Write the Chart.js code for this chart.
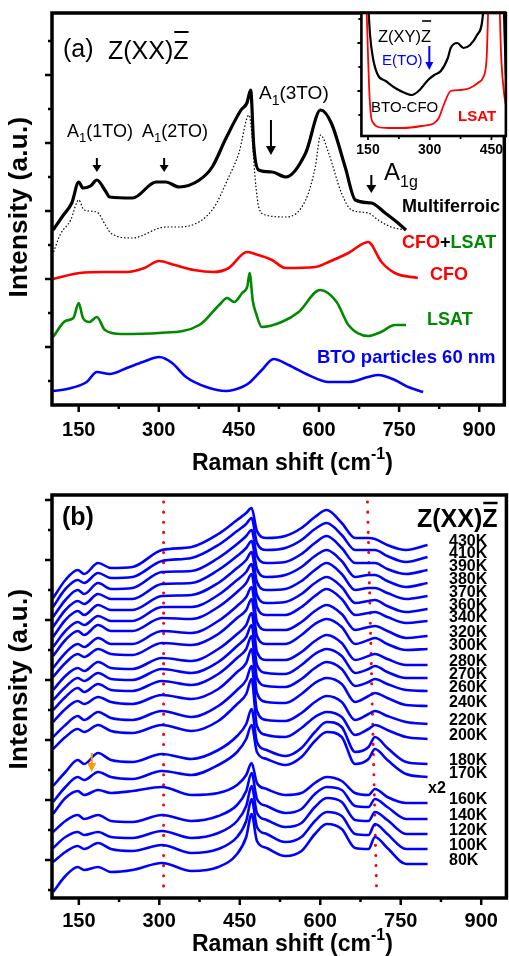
<!DOCTYPE html>
<html>
<head>
<meta charset="utf-8">
<script src="https://cdn.jsdelivr.net/npm/chart.js@4.4.0/dist/chart.umd.min.js"></script>
<style>
  html, body { margin: 0; padding: 0; background: #fff; }
  #wrap { position: relative; width: 509px; height: 956px; overflow: hidden; }
  canvas { position: absolute; }
</style>
</head>
<body>
<div id="wrap">
  <canvas id="chartA" width="509" height="480" style="left:0;top:0"></canvas>
  <canvas id="inset" width="159" height="152" style="left:350px;top:8px"></canvas>
  <canvas id="chartB" width="509" height="478" style="left:0;top:478px"></canvas>
</div>
<script>
/* --------------- Panel (a) spectra --------------------- */
const mfShift = [102, 120, 137, 150, 158, 172, 184, 200, 208, 251, 295, 313, 338, 376, 400, 426, 454, 465, 472, 478, 487, 512, 538, 575, 603, 623, 649, 668, 698, 724, 748, 763];
const mfInt = [151, 165, 178, 199, 193, 195, 201, 190, 184, 183, 199, 199, 194, 201, 214, 243, 271, 278, 291, 234, 211, 209, 204, 228, 271, 258, 214, 181, 178, 168, 158, 151];

const refShift = [103, 115, 135, 150, 160, 184, 200, 210, 250, 313, 338, 400, 431, 450, 469, 482, 487, 500, 538, 575, 593, 603, 618, 642, 661, 692, 711, 735, 763];
const refInt = [129, 146, 161, 181, 171, 169, 156, 148, 143, 154, 154, 171, 204, 228, 266, 194, 174, 166, 164, 181, 214, 246, 228, 188, 171, 168, 161, 154, 151];

const cfoShift = [102, 152, 200, 240, 273, 300, 330, 366, 403, 431, 465, 480, 512, 537, 593, 618, 655, 692, 717, 742, 785];
const cfoInt = [102, 108, 109, 109, 113, 120, 116, 111, 109, 113, 129, 127, 121, 113, 114, 119, 128, 139, 119, 108, 103];

const lsatShift = [102, 125, 140, 150, 158, 170, 184, 199, 230, 300, 376, 413, 428, 441, 456, 466, 470, 476, 482, 493, 530, 562, 602, 633, 655, 692, 716, 742, 763];
const lsatInt = [44, 60, 63, 78, 63, 59, 64, 51, 47, 48, 56, 76, 83, 79, 88, 95, 108, 80, 68, 54, 59, 69, 91, 79, 56, 45, 49, 56, 56];

const btoShift = [102, 128, 165, 184, 208, 240, 270, 301, 325, 351, 389, 426, 456, 469, 493, 515, 543, 580, 618, 655, 692, 711, 742, 767, 795];
const btoInt = [-10, -8, -1, 9, 7, 13, 19, 24, 18, 4, -6, -10, -6, -2, 11, 22, 16, 6, -1, -1, 4, 6, 1, -6, -11];

/* --------------- Inset Z(XY)Z --------------------- */
const xyShift = [148, 152, 155, 162, 174, 193, 216, 240, 256, 273, 296, 311, 327, 344, 351, 367, 382, 398, 415, 429, 433, 478, 482, 485];
const xyInt = [130, 100, 80, 57, 40, 34, 27, 22, 20, 24, 35, 40, 44, 57, 67, 72, 67, 70, 80, 99, 130, 130, 80, 40];
const xyLsatShift = [145, 150, 153, 157, 163, 175, 200, 233, 280, 311, 322, 334, 351, 374, 398, 420, 429, 438, 445, 467, 474, 481, 485];
const xyLsatInt = [130, 60, 25, 0, -8, -12, -13, -13, -11, -8, -3, 10, 24, 25, 27, 33, 37, 55, 130, 130, 55, 20, 10];

/* --------------- Panel (b) temperature series --------------------- */
const shiftB = [102, 125, 148, 160, 186, 210, 250, 305, 360, 410, 445, 462, 472, 482, 500, 535, 565, 590, 612, 640, 665, 690, 702, 725, 760, 800];
const temps = ["430K", "410K", "390K", "380K", "370K", "360K", "340K", "320K", "300K", "280K", "270K", "260K", "240K", "220K", "200K", "180K", "170K", "160K", "140K", "120K", "100K", "80K"];

const i430 = [292, 310, 320, 316, 327, 322, 323, 340, 343, 356, 370, 377, 382, 359, 352, 354, 362, 373, 380, 367, 352, 352, 351, 345, 340, 345];
const i410 = [283, 301, 310, 307, 317, 312, 313, 329, 332, 345, 359, 366, 372, 347, 340, 342, 350, 361, 367, 355, 340, 340, 340, 334, 328, 333];
const i390 = [273, 290, 300, 296, 307, 301, 302, 318, 319, 332, 346, 354, 360, 334, 327, 328, 336, 347, 354, 342, 327, 327, 327, 321, 316, 320];
const i380 = [263, 280, 289, 286, 296, 291, 291, 306, 307, 320, 334, 342, 349, 321, 313, 315, 323, 334, 340, 329, 313, 315, 315, 309, 303, 307];
const i370 = [253, 270, 279, 275, 285, 280, 280, 294, 295, 307, 322, 330, 338, 308, 300, 301, 309, 320, 327, 316, 300, 302, 302, 297, 291, 294];
const i360 = [243, 259, 268, 265, 274, 269, 269, 283, 283, 295, 310, 318, 326, 295, 287, 288, 296, 307, 313, 303, 287, 289, 290, 284, 278, 281];
const i340 = [234, 250, 259, 255, 265, 259, 259, 272, 271, 283, 298, 307, 316, 283, 275, 275, 283, 294, 301, 291, 275, 277, 278, 273, 267, 269];
const i320 = [222, 237, 246, 243, 252, 246, 246, 259, 257, 269, 284, 293, 303, 268, 260, 260, 268, 279, 285, 276, 260, 263, 264, 259, 252, 254];
const i300 = [213, 227, 236, 233, 241, 236, 235, 247, 245, 256, 272, 280, 291, 254, 246, 246, 255, 266, 271, 263, 246, 250, 252, 246, 240, 241];
const i280 = [200, 214, 222, 219, 228, 222, 221, 232, 229, 241, 256, 265, 277, 238, 230, 230, 238, 249, 255, 247, 230, 234, 236, 231, 225, 225];
const i270 = [190, 203, 212, 209, 217, 211, 210, 221, 217, 228, 244, 253, 265, 225, 217, 216, 225, 236, 241, 234, 217, 221, 224, 218, 212, 212];
const i260 = [180, 193, 202, 198, 206, 200, 199, 209, 205, 216, 232, 241, 254, 212, 204, 203, 211, 222, 228, 221, 204, 208, 211, 206, 200, 199];
const i240 = [168, 181, 189, 186, 193, 188, 186, 195, 191, 201, 218, 227, 241, 197, 188, 187, 196, 207, 212, 206, 188, 194, 197, 192, 185, 184];
const i220 = [153, 165, 174, 170, 178, 172, 170, 179, 173, 184, 200, 210, 224, 179, 170, 169, 177, 188, 194, 188, 170, 176, 179, 174, 168, 166];
const i200 = [141, 153, 161, 158, 165, 159, 157, 165, 159, 169, 186, 196, 211, 164, 155, 153, 162, 173, 178, 173, 155, 161, 165, 160, 153, 151];
const i180 = [104, 118, 130, 126, 137, 130, 128, 136, 131, 140, 154, 166, 181, 148, 140, 134, 142, 158, 168, 163, 138, 143, 153, 142, 128, 126];
const i170 = [88, 103, 113, 110, 118, 113, 111, 119, 115, 125, 138, 151, 165, 138, 131, 125, 133, 149, 158, 153, 126, 131, 141, 130, 116, 113];
const i160 = [76, 92, 99, 95, 100, 97, 99, 103, 95, 97, 105, 115, 127, 107, 101, 95, 97, 107, 113, 109, 97, 95, 101, 93, 87, 87];
const i140 = [58, 69, 75, 71, 75, 69, 68, 75, 69, 74, 85, 99, 117, 91, 84, 77, 81, 96, 103, 100, 84, 83, 91, 83, 71, 71];
const i120 = [42, 53, 58, 55, 58, 53, 52, 59, 52, 57, 69, 84, 104, 77, 70, 63, 67, 83, 92, 88, 70, 69, 78, 70, 56, 56];
const i100 = [28, 38, 44, 41, 47, 41, 39, 45, 37, 41, 53, 69, 91, 63, 56, 48, 53, 69, 78, 74, 56, 55, 66, 56, 41, 41];
const i80 = [-2, 14, 23, 20, 23, 18, 20, 27, 19, 23, 36, 53, 76, 49, 42, 34, 39, 56, 66, 61, 42, 41, 53, 42, 26, 26];
const seriesB = [i430, i410, i390, i380, i370, i360, i340, i320, i300, i280, i270, i260, i240, i220, i200, i180, i170, i160, i140, i120, i100, i80];

// red dotted guides in (b): shift at top / bottom
const guideTopShift = [308, 688];
const guideBottomShift = [308, 705];
const guideTop = 388;
const guideBottom = -2;

/* --------------- Helpers --------------------- */
const FONT = "'Liberation Sans', Arial, Helvetica, sans-serif";
const xy = (xs, ys) => xs.map((x, i) => ({ x: x, y: ys[i] }));

const line = (label, data, color, width, extra = {}) => ({
  label, data, borderColor: color, borderWidth: width,
  pointRadius: 0, fill: false, cubicInterpolationMode: "monotone", ...extra,
});

function text(ctx, s, x, y, size, color, bold, align = "left", base = "middle") {
  ctx.font = (bold ? "bold " : "") + size + "px " + FONT;
  ctx.fillStyle = color;
  ctx.textAlign = align;
  ctx.textBaseline = base;
  ctx.fillText(s, x, y);
  return ctx.measureText(s).width;
}

// pieces on one baseline: {t, size, color, bold, dy, over}
function runs(ctx, parts, x, y) {
  let cx = x;
  parts.forEach((p) => {
    const w = text(ctx, p.t, cx, y + (p.dy || 0), p.size, p.color || "#000", p.bold, "left", "alphabetic");
    if (p.over !== undefined) {
      ctx.strokeStyle = p.color || "#000";
      ctx.lineWidth = p.overW || 2;
      ctx.beginPath();
      ctx.moveTo(cx + 1, p.over);
      ctx.lineTo(cx + w, p.over);
      ctx.stroke();
    }
    cx += w + (p.gap || 0);
  });
  return cx;
}

function arrow(ctx, x, y1, y2, color, lw, hw, hh) {
  ctx.strokeStyle = color;
  ctx.fillStyle = color;
  ctx.lineWidth = lw;
  ctx.beginPath();
  ctx.moveTo(x, y1);
  ctx.lineTo(x, y2 - hh + 1);
  ctx.stroke();
  ctx.beginPath();
  ctx.moveTo(x - hw / 2, y2 - hh);
  ctx.lineTo(x + hw / 2, y2 - hh);
  ctx.lineTo(x, y2);
  ctx.closePath();
  ctx.fill();
}

function yTitle(ctx, x, y) {
  ctx.save();
  ctx.translate(x, y);
  ctx.rotate(-Math.PI / 2);
  ctx.letterSpacing = "0.3px";
  text(ctx, "Intensity (a.u.)", 0, 0, 26, "#000", true, "center", "alphabetic");
  ctx.restore();
}

function xTitle(ctx, x, y) {
  runs(ctx, [
    { t: "Raman shift (cm", size: 23, bold: true },
    { t: "-1", size: 16, bold: true, dy: -11 },
    { t: ")", size: 23, bold: true },
  ], x, y);
}

/* --------------- Frame and ticks (major / minor) --------------------- */
const frameTicks = {
  id: "frameTicks",
  afterDatasetsDraw(chart, args, o) {
    const { ctx, chartArea: a, scales } = chart;
    ctx.save();
    ctx.strokeStyle = "#000";
    ctx.lineWidth = o.tickW;
    ctx.beginPath();
    scales.x.ticks.forEach((t) => {
      const px = scales.x.getPixelForValue(t.value);
      const len = t.value % 150 === 0 ? o.major : o.minor;
      ctx.moveTo(px, a.bottom);
      ctx.lineTo(px, a.bottom + len);
    });
    scales.y.ticks.forEach((t) => {
      const py = scales.y.getPixelForValue(t.value);
      const len = Math.round(t.value / o.yStep) % 2 === 1 ? o.major : o.minor;
      ctx.moveTo(a.left, py);
      ctx.lineTo(a.left - len, py);
    });
    ctx.stroke();
    ctx.lineWidth = o.frameW;
    ctx.strokeRect(a.left, a.top, a.right - a.left, a.bottom - a.top);
    ctx.restore();
  },
};

const axisX = (min, max, pad, height, size) => ({
  type: "linear", min, max,
  grid: { display: false, drawTicks: false },
  border: { display: false },
  ticks: {
    stepSize: 75, includeBounds: false, autoSkip: false, maxRotation: 0,
    padding: pad, color: "#000",
    font: { family: FONT, size, weight: "bold" },
    callback: (v) => (v % 150 === 0 ? v : ""),
  },
  afterFit: (s) => { s.height = height; },
});

const axisY = (min, max, step, width) => ({
  type: "linear", min, max,
  grid: { display: false, drawTicks: false },
  border: { display: false },
  ticks: { display: false, stepSize: step, includeBounds: false },
  afterFit: (s) => { s.width = width; },
});

const baseOptions = {
  responsive: false,
  animation: false,
  devicePixelRatio: 1,
  plugins: { legend: { display: false }, tooltip: { enabled: false } },
};

/* --------------- Panel (a) --------------------- */
const annotA = {
  id: "annotA",
  afterDraw(chart) {
    const { ctx, scales } = chart;
    const X = (v) => scales.x.getPixelForValue(v);
    const Y = (v) => scales.y.getPixelForValue(v);
    ctx.save();
    text(ctx, "(a)", 63, 50, 25, "#000", false);
    runs(ctx, [
      { t: "Z(XX)", size: 25 },
      { t: "Z", size: 25, over: 32 },
    ], 108, 59);

    runs(ctx, [{ t: "A", size: 18 }, { t: "1", size: 13, dy: 5 }, { t: "(1TO)", size: 18 }], 67, 137);
    runs(ctx, [{ t: "A", size: 18 }, { t: "1", size: 13, dy: 5 }, { t: "(2TO)", size: 18 }], 142, 137);
    runs(ctx, [{ t: "A", size: 19 }, { t: "1", size: 14, dy: 6 }, { t: "(3TO)", size: 19 }], 259, 99);
    runs(ctx, [{ t: "A", size: 24 }, { t: "1g", size: 16, dy: 7 }], 384, 180);

    arrow(ctx, X(184), Y(223), Y(209), "#000", 2, 9, 7);
    arrow(ctx, X(310), Y(223), Y(209), "#000", 2, 9, 7);
    arrow(ctx, X(510), Y(261), Y(226), "#000", 2, 10, 9);
    arrow(ctx, X(698), Y(206), Y(188), "#000", 2, 10, 8);

    text(ctx, "Multiferroic", 402, 207, 18, "#000", true);
    let cx = 402;
    cx += text(ctx, "CFO", cx, 243, 18, "#ff0000", true);
    cx += text(ctx, "+", cx, 243, 18, "#000", true);
    text(ctx, "LSAT", cx, 243, 18, "#008a00", true);
    text(ctx, "CFO", 430, 275, 18, "#ff0000", true);
    text(ctx, "LSAT", 427, 320, 18, "#008a00", true);
    text(ctx, "BTO particles 60 nm", 317, 358, 18.5, "#0000ff", true);

    yTitle(ctx, 27, 207);
    xTitle(ctx, 192, 470);
    ctx.restore();
  },
};

new Chart(document.getElementById("chartA"), {
  type: "line",
  data: {
    datasets: [
      line("BTO particles 60 nm", xy(btoShift, btoInt), "#0000ff", 2.6),
      line("LSAT", xy(lsatShift, lsatInt), "#008a00", 2.6),
      line("CFO", xy(cfoShift, cfoInt), "#ff0000", 2.6),
      line("CFO+LSAT", xy(refShift, refInt), "#000", 1.2, { borderDash: [1.5, 2] }),
      line("Multiferroic", xy(mfShift, mfInt), "#000", 3.2),
    ],
  },
  options: {
    ...baseOptions,
    layout: { padding: { top: 13, right: 2, left: 0, bottom: 0 } },
    scales: { x: axisX(100, 947, 13, 75, 20), y: axisY(-24, 368, 34, 52) },
    plugins: {
      ...baseOptions.plugins,
      frameTicks: { tickW: 2.5, major: 7, minor: 4, yStep: 34, frameW: 3.5 },
    },
  },
  plugins: [frameTicks, annotA],
});

/* --------------- Inset --------------------- */
const insetDeco = {
  id: "insetDeco",
  beforeDatasetsDraw(chart) {
    const { ctx, chartArea: a } = chart;
    ctx.save();
    ctx.fillStyle = "#fff";
    ctx.fillRect(a.left, a.top, a.right - a.left, a.bottom - a.top);
    ctx.restore();
  },
  afterDraw(chart) {
    const { ctx, scales } = chart;
    const X = (v) => scales.x.getPixelForValue(v);
    const Y = (v) => scales.y.getPixelForValue(v);
    ctx.save();
    // page coords minus (350, 8)
    runs(ctx, [{ t: "Z(XY)", size: 16.5 }, { t: "Z", size: 16.5, over: 13, overW: 1.6 }], 28, 34);
    text(ctx, "E(TO)", 32, 53, 15, "#0000ff", false);
    arrow(ctx, X(299), Y(69), Y(45), "#0000ff", 2, 8, 8);
    text(ctx, "BTO-CFO", 21, 100, 15, "#000", false);
    text(ctx, "LSAT", 108, 109, 15, "#ff0000", true);
    ctx.restore();
  },
};

new Chart(document.getElementById("inset"), {
  type: "line",
  data: {
    datasets: [
      line("LSAT", xy(xyLsatShift, xyLsatInt), "#ff0000", 1.8),
      line("BTO-CFO", xy(xyShift, xyInt), "#000", 2.2),
    ],
  },
  options: {
    ...baseOptions,
    layout: { padding: { top: 5, right: 2, left: 0, bottom: 0 } },
    scales: { x: axisX(134, 485, 6, 24, 14), y: axisY(-21, 102, 24, 8) },
    plugins: {
      ...baseOptions.plugins,
      frameTicks: { tickW: 1.8, major: 4, minor: 3, yStep: 24, frameW: 2.6 },
    },
  },
  plugins: [insetDeco, frameTicks],
});

/* --------------- Panel (b) --------------------- */
const annotB = {
  id: "annotB",
  afterDraw(chart) {
    const { ctx, scales } = chart;
    const X = (v) => scales.x.getPixelForValue(v);
    const Y = (v) => scales.y.getPixelForValue(v);
    ctx.save();
    text(ctx, "(b)", 62, 40, 25, "#000", true);
    runs(ctx, [{ t: "Z(XX)", size: 25, bold: true }, { t: "Z", size: 25, bold: true, over: 25, overW: 2.5 }], 417, 49);

    seriesB.forEach((s, i) => {
      text(ctx, temps[i], 449, Y(s[s.length - 1]) - 3, 16, "#000", true);
    });
    text(ctx, "x2", 428, 311, 16, "#000", true);
    arrow(ctx, X(174), Y(137), Y(118), "#ff9900", 2, 9, 9);

    yTitle(ctx, 27, 201);
    xTitle(ctx, 192, 473);
    ctx.restore();
  },
};

const blueSets = seriesB.map((s, i) => line(temps[i], xy(shiftB, s), "#0000ff", 2.6));
const guideSets = guideTopShift.map((x, i) =>
  line("guide", [{ x: x, y: guideTop }, { x: guideBottomShift[i], y: guideBottom }], "#ff0000", 3,
    { borderDash: [0.1, 10], borderCapStyle: "round", cubicInterpolationMode: "default" })
);

new Chart(document.getElementById("chartB"), {
  type: "line",
  data: { datasets: [...blueSets, ...guideSets] },
  options: {
    ...baseOptions,
    layout: { padding: { top: 17, right: 2, left: 0, bottom: 0 } },
    scales: { x: axisX(100, 947, 11, 58, 20), y: axisY(-8, 395, 30, 52) },
    plugins: {
      ...baseOptions.plugins,
      frameTicks: { tickW: 2.5, major: 7, minor: 4, yStep: 30, frameW: 3.5 },
    },
  },
  plugins: [frameTicks, annotB],
});
</script>
</body>
</html>
